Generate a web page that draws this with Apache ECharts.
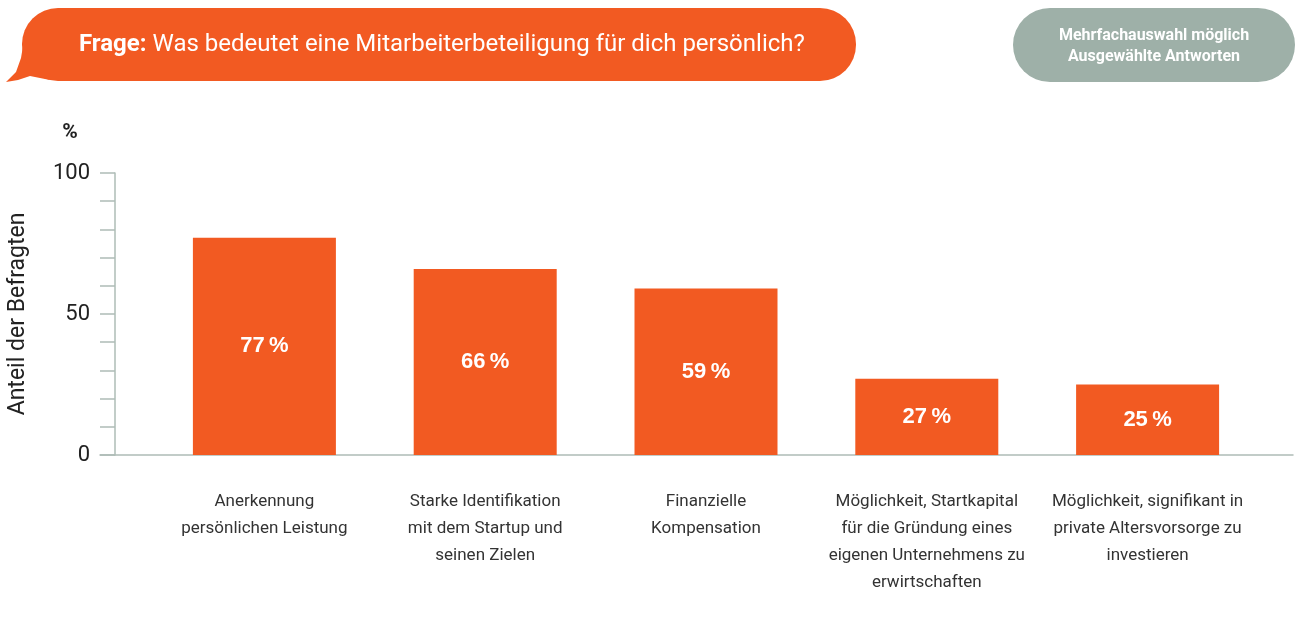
<!DOCTYPE html>
<html style="height: 100%">

<head>
    <meta charset="utf-8">
</head>

<body style="height: 100%; margin: 0; background: #fff">
    <div id="container" style="width: 1301px; height: 636px"></div>

    <script src="https://cdn.jsdelivr.net/npm/echarts@6/dist/echarts.min.js" type="text/javascript"></script>

    <script type="text/javascript">
        // Daten
        var categories = [
            'Anerkennung\npersönlichen Leistung',
            'Starke Identifikation\nmit dem Startup und\nseinen Zielen',
            'Finanzielle\nKompensation',
            'Möglichkeit, Startkapital\nfür die Gründung eines\neigenen Unternehmens zu\nerwirtschaften',
            'Möglichkeit, signifikant in\nprivate Altersvorsorge zu\ninvestieren'
        ];
        var values = [77, 66, 59, 27, 25];
        var yTickLabels = [0, 50, 100];

        var orange = '#f25a22';
        var axisGrey = '#aebcb6';
        var font = 'Roboto, "Noto Sans", sans-serif';

        var dom = document.getElementById('container');
        var myChart = echarts.init(dom);

        var option = {
            animation: false,
            textStyle: { fontFamily: font },
            grid: [
                { left: 154, right: 43, top: 173, bottom: 181, outerBoundsMode: 'none', containLabel: false },
                { left: 100, right: 8, top: 173, bottom: 181, outerBoundsMode: 'none', containLabel: false }
            ],
            xAxis: [
                {
                    type: 'category',
                    gridIndex: 0,
                    data: categories,
                    axisLine: { show: false },
                    axisTick: { show: false },
                    axisLabel: {
                        interval: 0,
                        margin: 33,
                        fontSize: 17,
                        lineHeight: 27,
                        color: '#333',
                        fontFamily: font
                    }
                },
                {
                    type: 'category',
                    gridIndex: 1,
                    data: [''],
                    axisLine: { show: true, lineStyle: { color: axisGrey, width: 1.5 } },
                    axisTick: { show: false },
                    axisLabel: { show: false }
                }
            ],
            yAxis: [
                {
                    type: 'value',
                    gridIndex: 0,
                    min: 0,
                    max: 100,
                    interval: 10,
                    offset: 39,
                    name: 'Anteil der Befragten',
                    nameLocation: 'middle',
                    nameGap: 85,
                    nameTextStyle: { fontSize: 23, color: '#222', fontFamily: font },
                    splitLine: { show: false },
                    axisLine: { show: true, lineStyle: { color: axisGrey, width: 1.5 } },
                    axisTick: { show: true, length: 15, lineStyle: { color: axisGrey, width: 1.5 } },
                    axisLabel: {
                        margin: 25,
                        fontSize: 22,
                        color: '#222',
                        fontFamily: font,
                        formatter: function (v) {
                            return yTickLabels.indexOf(v) >= 0 ? String(v) : '';
                        }
                    }
                },
                {
                    type: 'value',
                    gridIndex: 1,
                    min: 0,
                    max: 100,
                    show: false
                }
            ],
            series: [
                {
                    type: 'bar',
                    xAxisIndex: 0,
                    yAxisIndex: 0,
                    data: values,
                    barWidth: 143,
                    itemStyle: { color: orange },
                    label: {
                        show: true,
                        position: 'inside',
                        color: '#fff',
                        fontSize: 22,
                        fontWeight: 'bold',
                        fontFamily: '"Liberation Sans", Arial, sans-serif',
                        formatter: '{c}\u2009%'
                    }
                }
            ],
            graphic: [
                {
                    type: 'polygon',
                    shape: {
                        points: [[24, 40], [50, 80], [30, 76], [18, 80], [6, 82], [16, 72], [21, 58]]
                    },
                    style: { fill: orange }
                },
                {
                    type: 'rect',
                    shape: { x: 22, y: 8, width: 834, height: 73, r: 36 },
                    style: { fill: orange }
                },
                {
                    type: 'text',
                    x: 79,
                    y: 45,
                    style: {
                        text: '{b|Frage:} Was bedeutet eine Mitarbeiterbeteiligung für dich persönlich?',
                        fill: '#fff',
                        font: '24px ' + font,
                        verticalAlign: 'middle',
                        rich: {
                            b: { fontWeight: 'bold', fontSize: 24, fill: '#fff', fontFamily: font }
                        }
                    }
                },
                {
                    type: 'rect',
                    shape: { x: 1013, y: 8, width: 282, height: 74, r: 37 },
                    style: { fill: '#9eb0a8' }
                },
                {
                    type: 'text',
                    x: 1154,
                    y: 46,
                    style: {
                        text: 'Mehrfachauswahl möglich\nAusgewählte Antworten',
                        fill: '#fff',
                        font: 'bold 16px ' + font,
                        lineHeight: 21,
                        align: 'center',
                        verticalAlign: 'middle'
                    }
                },
                {
                    type: 'text',
                    x: 70,
                    y: 133,
                    style: {
                        text: '%',
                        fill: '#222',
                        font: 'bold 21px ' + font,
                        align: 'center',
                        verticalAlign: 'middle'
                    }
                }
            ]
        };

        myChart.setOption(option);
    </script>
</body>

</html>
